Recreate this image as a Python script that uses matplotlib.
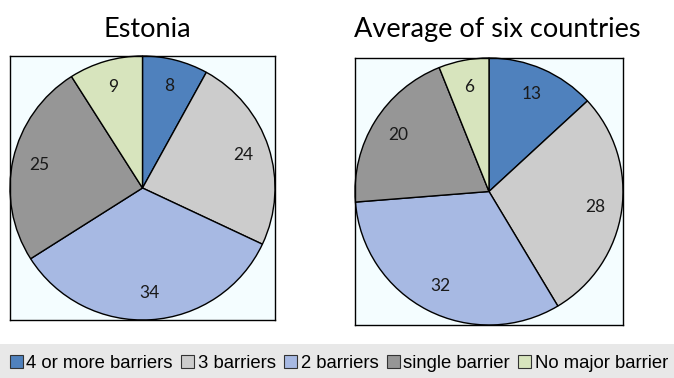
import matplotlib
matplotlib.use("Agg")
import matplotlib.pyplot as plt
from matplotlib.patches import Patch, Rectangle

# data
categories = ["4 or more barriers", "3 barriers", "2 barriers", "single barrier", "No major barrier"]
estonia = [8, 24, 34, 25, 9]
average = [13, 28, 32, 20, 6]
titles = ["Estonia", "Average of six countries"]
colors = ["#4f81bd", "#cccccc", "#a7b9e3", "#969696", "#d7e4bd"]

fig = plt.figure(figsize=(6.74, 3.78), dpi=100)
fig.patch.set_facecolor("white")

# gray band behind legend
fig.patches.append(Rectangle((0, 0), 1, 34 / 378, transform=fig.transFigure,
                             facecolor="#e8e8e8", edgecolor="none", zorder=0))


def draw_pie(rect, values, title, title_x):
    ax = fig.add_axes(rect)
    ax.set_facecolor("#f4fdff")
    labels_iter = iter(values)
    ax.pie(values, colors=colors, startangle=90, counterclock=False,
           radius=1, pctdistance=0.8,
           autopct=lambda p: str(next(labels_iter)),
           wedgeprops=dict(edgecolor="black", linewidth=1),
           textprops=dict(fontsize=12.5, family=["Lato", "DejaVu Sans"], color="#1a1a1a"),
           frame=True)
    ax.set_xlim(-1.0, 1.0)
    ax.set_ylim(-1.0, 1.0)
    ax.set_aspect("auto")
    ax.set_xticks([])
    ax.set_yticks([])
    for s in ax.spines.values():
        s.set_color("black")
        s.set_linewidth(1)
    fig.text(title_x, 1 - 37 / 378, title, ha="center", va="baseline",
             fontsize=19.5, family=["Lato", "DejaVu Sans"], color="black")
    return ax


draw_pie([10 / 674, 1 - 320 / 378, 265 / 674, 264 / 378], estonia, titles[0], 147 / 674)
draw_pie([355 / 674, 1 - 325 / 378, 268 / 674, 267 / 378], average, titles[1], 497 / 674)

handles = [Patch(facecolor=c, edgecolor="#333333", linewidth=0.8) for c in colors]
fig.legend(handles, categories, loc="center", bbox_to_anchor=(339 / 674, 15 / 378),
           ncol=5, frameon=False, handlelength=0.7, handleheight=0.7,
           handletextpad=0.2, columnspacing=0.45, borderaxespad=0, borderpad=0,
           prop=dict(family=["Liberation Sans", "DejaVu Sans"], size=13.3))

plt.savefig("out.png", dpi=100)
